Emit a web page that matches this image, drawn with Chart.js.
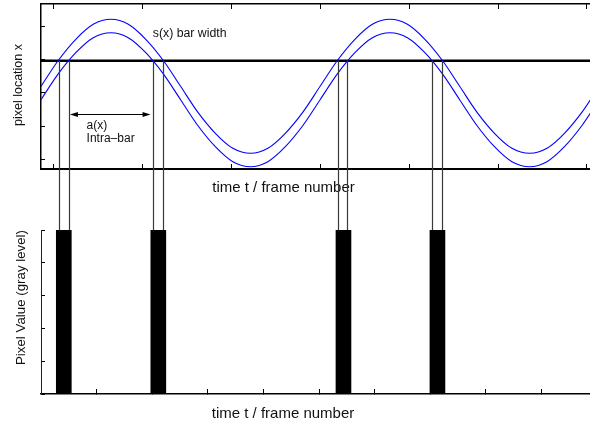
<!DOCTYPE html>
<html>
<head>
<meta charset="utf-8">
<title>Bar sweep and pixel response</title>
<script src="https://cdn.jsdelivr.net/npm/chart.js@4.4.0/dist/chart.umd.min.js"></script>
<style>
    html, body { margin: 0; padding: 0; background: #fff; }
    #wrap { position: relative; width: 590px; height: 425px; overflow: hidden; }
    #wrap canvas { position: absolute; left: 0; }
    #sweepCanvas { top: 0; }
    #pixelCanvas { top: 226px; }
</style>
</head>
<body>
<div id="wrap">
    <canvas id="sweepCanvas" width="590" height="230"></canvas>
    <canvas id="pixelCanvas" width="590" height="199"></canvas>
</div>
<script>
// Time axis (frame number)
const timeMax = 98.74;
const frameTicks = [0, 10, 20, 30, 40, 50, 60, 70, 80, 90];
const sweepTicks = [2.2, 18.2, 34.2, 50.2, 66.2, 82.2, 98.2];

// Top panel: position of both bar edges over time
const locationTicks = [10, 20, 30, 40, 50];
const sampleTimes = [0, 3.1, 6.3, 9.4, 12.6, 15.7, 18.8, 22.0, 25.1, 28.2, 31.4, 34.5, 37.7, 40.8, 43.9, 47.1,
    50.2, 53.3, 56.5, 59.6, 62.8, 65.9, 69.0, 72.2, 75.3, 78.4, 81.6, 84.7, 87.9, 91.0, 94.1, 97.3, 100.4];
const upperEdge = [32, 39.7, 46.1, 50.5, 52, 50.5, 46.1, 39.7, 32, 24.3, 17.9, 13.5, 12, 13.5, 17.9, 24.3,
    32, 39.7, 46.1, 50.5, 52, 50.5, 46.1, 39.7, 32, 24.3, 17.9, 13.5, 12, 13.5, 17.9, 24.3, 32];
const lowerEdge = [28, 35.7, 42.1, 46.5, 48, 46.5, 42.1, 35.7, 28, 20.3, 13.9, 9.5, 8, 9.5, 13.9, 20.3,
    28, 35.7, 42.1, 46.5, 48, 46.5, 42.1, 35.7, 28, 20.3, 13.9, 9.5, 8, 9.5, 13.9, 20.3, 28];
const scanRow = 39.6;
const crossingTimes = [3.3, 5.0, 20.2, 21.9, 53.4, 55.1, 70.4, 72.1];
const intraBarSpan = [5.2, 19.7];
const intraBarLevel = 23.6;

// Bottom panel: gray level seen by the pixel
const levelTicks = [0, 1, 2, 3, 4, 5];
const pulseTimes = [4.1, 21.1, 54.4, 71.3];
const pulseLevels = [5, 5, 5, 5];

Chart.defaults.font.family = '"Liberation Sans", Arial, sans-serif';
Chart.defaults.color = '#111';

const FONT = '"Liberation Sans", Arial, sans-serif';

// inward tick marks, no grid on the plot area
function innerGrid(len) {
    return { drawOnChartArea: false, drawTicks: true, tickLength: -len, tickColor: '#000', tickWidth: 1 };
}

function fixedTicks(values) {
    return function(scale) {
        scale.ticks = values.map(v => ({ value: v }));
    };
}

function rotatedText(ctx, text, x, y, font) {
    ctx.save();
    ctx.translate(x, y);
    ctx.rotate(-Math.PI / 2);
    ctx.font = font;
    ctx.textAlign = 'center';
    ctx.textBaseline = 'middle';
    ctx.fillText(text, 0, 0);
    ctx.restore();
}

// titles, notes, arrow and the drop lines down to the pulses
const sweepNotes = {
    id: 'sweepNotes',
    afterDatasetsDraw(chart) {
        const { ctx, scales: { x, y } } = chart;
        ctx.save();
        ctx.fillStyle = '#111';

        ctx.font = '15px ' + FONT;
        ctx.textAlign = 'center';
        ctx.textBaseline = 'alphabetic';
        ctx.fillText('time t / frame number', 283.5, 191.5);
        rotatedText(ctx, 'pixel location x', 19, 85, '12.5px ' + FONT);

        ctx.textAlign = 'left';
        ctx.textBaseline = 'middle';
        ctx.font = '12.3px ' + FONT;
        ctx.fillText('s(x) bar width', x.getPixelForValue(20.1), y.getPixelForValue(47.6));
        ctx.font = '12px ' + FONT;
        ctx.fillText('a(x)', x.getPixelForValue(8.2), y.getPixelForValue(20.1));
        ctx.fillText('Intra\u2013bar', x.getPixelForValue(8.2), y.getPixelForValue(16.5));

        // double headed arrow for a(x)
        const ax1 = x.getPixelForValue(intraBarSpan[0]);
        const ax2 = x.getPixelForValue(intraBarSpan[1]);
        const ay = Math.round(y.getPixelForValue(intraBarLevel)) + 0.5;
        ctx.strokeStyle = '#000';
        ctx.lineWidth = 1;
        ctx.beginPath();
        ctx.moveTo(ax1 + 4, ay);
        ctx.lineTo(ax2 - 4, ay);
        ctx.stroke();
        ctx.fillStyle = '#000';
        ctx.beginPath();
        ctx.moveTo(ax1, ay);
        ctx.lineTo(ax1 + 8, ay - 2.5);
        ctx.lineTo(ax1 + 8, ay + 2.5);
        ctx.closePath();
        ctx.fill();
        ctx.beginPath();
        ctx.moveTo(ax2, ay);
        ctx.lineTo(ax2 - 8, ay - 2.5);
        ctx.lineTo(ax2 - 8, ay + 2.5);
        ctx.closePath();
        ctx.fill();

        // drop lines from the scan row to the pulses below
        ctx.strokeStyle = '#3a3a3a';
        ctx.lineWidth = 1.2;
        const top = y.getPixelForValue(scanRow);
        crossingTimes.forEach(t => {
            const px = Math.round(x.getPixelForValue(t)) + 0.5;
            ctx.beginPath();
            ctx.moveTo(px, top);
            ctx.lineTo(px, chart.height);
            ctx.stroke();
        });
        ctx.restore();
    }
};

const pixelNotes = {
    id: 'pixelNotes',
    afterDraw(chart) {
        const ctx = chart.ctx;
        ctx.save();
        ctx.fillStyle = '#111';
        ctx.font = '15px ' + FONT;
        ctx.textAlign = 'center';
        ctx.textBaseline = 'alphabetic';
        ctx.fillText('time t / frame number', 283, 192);
        rotatedText(ctx, 'Pixel Value (gray level)', 21.5, 71.5, '13.3px ' + FONT);
        ctx.restore();
    }
};

// Top panel
const sweepChart = new Chart(document.getElementById('sweepCanvas'), {
    type: 'line',
    data: {
        datasets: [
            {
                data: sampleTimes.map((t, i) => ({ x: t, y: upperEdge[i] })),
                borderColor: '#0000ff',
                borderWidth: 1.1,
                pointRadius: 0,
                cubicInterpolationMode: 'monotone'
            },
            {
                data: sampleTimes.map((t, i) => ({ x: t, y: lowerEdge[i] })),
                borderColor: '#0000ff',
                borderWidth: 1.1,
                pointRadius: 0,
                cubicInterpolationMode: 'monotone'
            },
            {
                data: [{ x: 0, y: scanRow }, { x: timeMax, y: scanRow }],
                borderColor: '#000',
                borderWidth: 2.5,
                pointRadius: 0
            }
        ]
    },
    options: {
        responsive: false,
        animation: false,
        events: [],
        layout: { padding: 0 },
        plugins: {
            legend: { display: false },
            tooltip: { enabled: false }
        },
        scales: {
            x: {
                type: 'linear',
                position: 'bottom',
                min: 0,
                max: timeMax,
                afterBuildTicks: fixedTicks(sweepTicks),
                afterFit: s => { s.height = 61; },
                ticks: { display: false },
                grid: innerGrid(5),
                border: { color: '#000', width: 2 }
            },
            xTop: {
                type: 'linear',
                position: 'top',
                min: 0,
                max: timeMax,
                afterBuildTicks: fixedTicks(sweepTicks),
                afterFit: s => { s.height = 4; },
                ticks: { display: false },
                grid: innerGrid(5),
                border: { color: '#000', width: 1.5 }
            },
            y: {
                type: 'linear',
                position: 'left',
                min: 7.31,
                max: 56.57,
                afterBuildTicks: fixedTicks(locationTicks),
                afterFit: s => { s.width = 41; },
                ticks: { display: false },
                grid: innerGrid(4),
                border: { color: '#000', width: 1.5 }
            }
        }
    },
    plugins: [sweepNotes]
});

// Bottom panel
const pixelChart = new Chart(document.getElementById('pixelCanvas'), {
    type: 'bar',
    data: {
        datasets: [{
            data: pulseTimes.map((t, i) => ({ x: t, y: pulseLevels[i] })),
            backgroundColor: '#000',
            borderWidth: 0,
            barThickness: 15
        }]
    },
    options: {
        responsive: false,
        animation: false,
        events: [],
        layout: { padding: { top: 4, left: 0, right: 0, bottom: 0 } },
        plugins: {
            legend: { display: false },
            tooltip: { enabled: false }
        },
        scales: {
            x: {
                type: 'linear',
                position: 'bottom',
                min: 0,
                max: timeMax,
                offset: false,
                afterBuildTicks: fixedTicks(frameTicks),
                afterFit: s => { s.height = 31; },
                ticks: { display: false },
                grid: Object.assign(innerGrid(5), { offset: false }),
                border: { color: '#000', width: 1.5 }
            },
            y: {
                type: 'linear',
                position: 'left',
                min: 0,
                max: 5,
                afterBuildTicks: fixedTicks(levelTicks),
                afterFit: s => { s.width = 41; },
                ticks: { display: false },
                grid: innerGrid(4),
                border: { color: '#222', width: 1 }
            }
        }
    },
    plugins: [pixelNotes]
});
</script>
</body>
</html>
